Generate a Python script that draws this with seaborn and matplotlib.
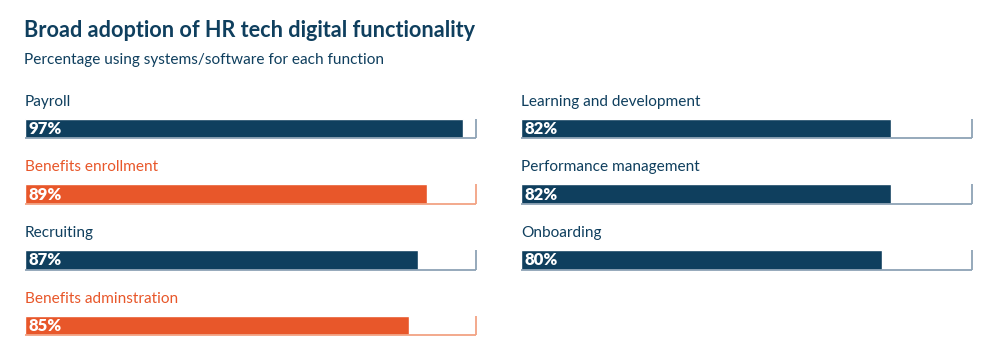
import matplotlib
matplotlib.use("Agg")
import matplotlib.pyplot as plt
import seaborn as sns
import pandas as pd

# data
left_functions = ["Payroll", "Benefits enrollment", "Recruiting", "Benefits adminstration"]
left_values = [97, 89, 87, 85]
right_functions = ["Learning and development", "Performance management", "Onboarding"]
right_values = [82, 82, 80]
highlighted = ["Benefits enrollment", "Benefits adminstration"]

NAVY = "#0f3f5e"
ORANGE = "#e8572a"
NAVY_TRACK = "#8da3b5"
ORANGE_TRACK = "#f2a383"

sns.set_theme(style="white")
plt.rcParams["font.family"] = ["Lato", "DejaVu Sans"]

fig = plt.figure(figsize=(10, 3.6), dpi=100)

fig.text(0.024, 0.915, "Broad adoption of HR tech digital functionality",
         fontsize=15.6, fontweight="bold", color=NAVY, ha="left", va="center")
fig.text(0.024, 0.833, "Percentage using systems/software for each function",
         fontsize=11.1, color=NAVY, ha="left", va="center")

bar_h = 0.30


def draw_column(ax, names, vals):
    df = pd.DataFrame({"function": names, "value": vals})
    cols = [ORANGE if n in highlighted else NAVY for n in names]
    sns.barplot(data=df, x="value", y="function", hue="function", palette=cols,
                orient="h", width=bar_h, legend=False, ax=ax, saturation=1)
    for i, (n, v) in enumerate(zip(names, vals)):
        hl = n in highlighted
        track = ORANGE_TRACK if hl else NAVY_TRACK
        ax.hlines(i + bar_h / 2, 0, 100, color=track, lw=1.3, zorder=1)
        ax.vlines(100, i - bar_h / 2, i + bar_h / 2, color=track, lw=1.3, zorder=1)
        ax.text(0, i - 0.41, n, ha="left", va="center", fontsize=11.1,
                color=ORANGE if hl else NAVY)
        ax.text(0.8, i + 0.01, f"{v}%", ha="left", va="center", fontsize=12,
                fontweight="heavy", color="white")
    ax.set_xlim(0, 100.4)
    ax.set_ylim(3.5, -0.75)
    ax.set_xlabel("")
    ax.set_ylabel("")
    ax.set_xticks([])
    ax.set_yticks([])
    sns.despine(ax=ax, left=True, bottom=True)


ax1 = fig.add_axes([0.025, 0.0047, 0.453, 0.775])
ax2 = fig.add_axes([0.521, 0.0047, 0.453, 0.775])
draw_column(ax1, left_functions, left_values)
draw_column(ax2, right_functions, right_values)

fig.savefig("out.png", dpi=100)
